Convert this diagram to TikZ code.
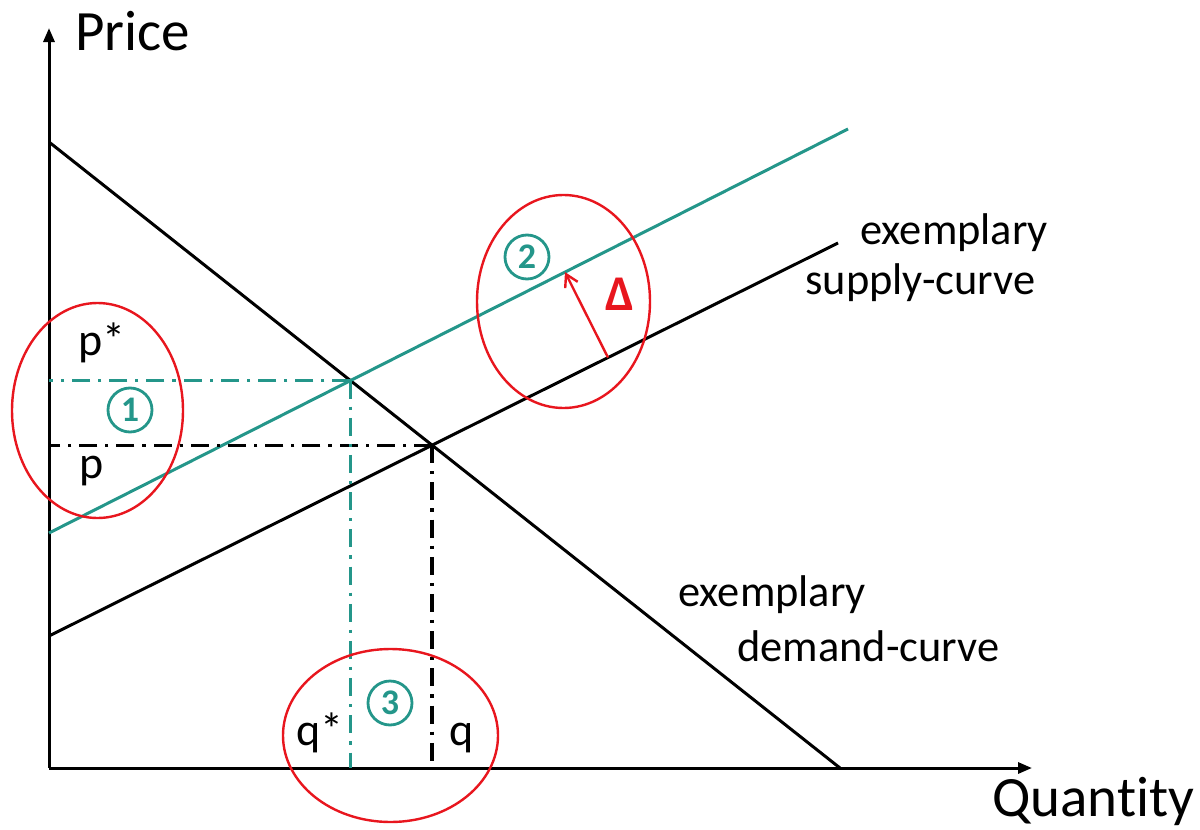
\documentclass[tikz,border=0pt]{standalone}
\usepackage{fontspec}
\setmainfont{Carlito}[Ligatures=NoCommon]
\usetikzlibrary{arrows.meta,intersections,calc}
\definecolor{tealc}{RGB}{36,150,138}
\definecolor{redc}{RGB}{232,22,30}
\tikzset{
  axis/.style={line width=1.5pt,-{Triangle[length=7pt,width=5.5pt]}},
  curve/.style={line width=1.5pt},
  ddash/.style={line width=1.6pt,dash pattern=on 9pt off 4pt on 1.6pt off 4pt},
  lbl/.style={font=\fontsize{23}{28}\selectfont,inner sep=0pt},
  curvelbl/.style={font=\fontsize{22.2}{26}\selectfont,inner sep=0pt},
  big/.style={font=\fontsize{28.5}{34}\selectfont,inner sep=0pt},
  cnum/.style={circle,draw=tealc,line width=1.4pt,text=tealc,minimum size=22pt,inner sep=0pt,font=\fontsize{18}{18}\selectfont\bfseries},
  redell/.style={draw=redc,line width=1.2pt},
}
\begin{document}
\begin{tikzpicture}[x=0.5pt,y=-0.5pt]
\useasboundingbox (0,0) rectangle (1200,830);
% axes
\coordinate (O) at (49,768);
\coordinate (Ytop) at (49,28);
\coordinate (Xend) at (1032,768);
\draw[axis] (O) -- (Ytop);
\draw[axis] (O) -- (Xend);
\node[big,anchor=base west] (price) at (75,50) {Price};
\node[big,anchor=base west] (quant) at (992,816) {Quantity};
% curves
\coordinate (d1) at (49,142); \coordinate (d2) at (840,768);
\coordinate (s1) at (49,636); \coordinate (s2) at (838,243);
\coordinate (t1) at (49,533); \coordinate (t2) at (848,129);
\draw[curve,name path=D] (d1) -- (d2);
\draw[curve,name path=S] (s1) -- (s2);
\draw[curve,tealc,name path=T] (t1) -- (t2);
\path[name intersections={of=D and S,by=E}];
\path[name intersections={of=D and T,by=Et}];
% dash-dot guides
\draw[ddash] (E) -- (E -| O);
\draw[ddash] (E) -- (E |- O);
\draw[ddash,tealc] (Et) -- (Et -| O);
\draw[ddash,tealc] (Et) -- (Et |- O);
% labels
\node[lbl,anchor=base west] (pstar) at (78,355) {p*};
\node[lbl,anchor=base west] (p) at (79,478) {p};
\node[lbl,anchor=base west] (qstar) at (296,745) {q*};
\node[lbl,anchor=base west] (q) at (449,745) {q};
\node[curvelbl,anchor=base west] (sup1) at (860,244) {exemplary};
\node[curvelbl,anchor=base west] (sup2) at (805,294) {supply-curve};
\node[curvelbl,anchor=base west] (dem1) at (678,606) {exemplary};
\node[curvelbl,anchor=base west] (dem2) at (737,661) {demand-curve};
% circled numbers
\node[cnum] (n1) at (130,410) {1};
\node[cnum] (n2) at (527,257) {2};
\node[cnum] (n3) at (390,703) {3};
% delta shift
\path (s1) -- (s2) coordinate[pos=0.7085] (dA);
\path (t1) -- (t2) coordinate[pos=0.6458] (dB);
\draw[redc,line width=1.2pt,-{Straight Barb[length=6pt,width=7pt]}] (dA) -- (dB);
\node[font=\fontsize{25}{25}\selectfont\bfseries,text=redc,inner sep=0pt,anchor=base] (delta) at (620,310) {Δ};
% red ellipses
\draw[redell] (97.5,410.5) ellipse [x radius=85.5, y radius=107.5];
\draw[redell] (563.5,301.5) ellipse [x radius=86.5, y radius=106.5];
\draw[redell] (390.5,735.5) ellipse [x radius=107.5, y radius=86.5];
\end{tikzpicture}
\end{document}
